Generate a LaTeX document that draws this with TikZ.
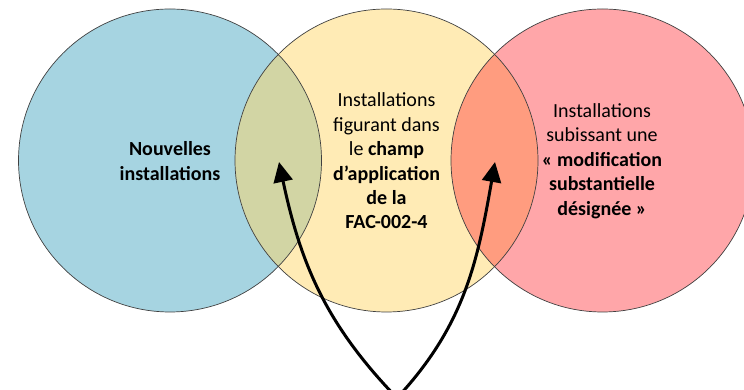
\documentclass[tikz,border=0pt]{standalone}
\usepackage{fontspec}
\setmainfont{Carlito}
\usepackage{tikz}
\usetikzlibrary{calc}
\usetikzlibrary{arrows.meta}
\definecolor{setBlue}{HTML}{A6D4E1}
\definecolor{setYellow}{HTML}{FFEBB5}
\definecolor{setRed}{HTML}{FFA6A9}
\definecolor{lensGreen}{HTML}{D2D5A4}
\definecolor{lensOrange}{HTML}{FF9C7F}

\begin{document}
\begin{tikzpicture}[x=1pt, y=1pt, font=\fontsize{20}{24.4}\selectfont]
    \def \rad{151.5}
    \useasboundingbox (0,0) rectangle (744,390);

    \coordinate (cBlue) at (170,229.5);
    \coordinate (cYellow) at (386.5,229.5);
    \coordinate (cRed) at (602.5,229.5);

    \foreach \c/\col in {cBlue/setBlue, cYellow/setYellow, cRed/setRed}{
        \fill[\col] (\c) circle (\rad);
    }
    \begin{scope}
        \clip (cBlue) circle (\rad);
        \fill[lensGreen] (cYellow) circle (\rad);
    \end{scope}
    \begin{scope}
        \clip (cRed) circle (\rad);
        \fill[lensOrange] (cYellow) circle (\rad);
    \end{scope}
    \foreach \c in {cBlue, cYellow, cRed}{
        \draw[black!75, line width=0.7] (\c) circle (\rad);
    }

    \node[align=center] (newInst) at (170,229) {\textbf{Nouvelles}\\ \textbf{installations}};
    \node[align=center] (scopeFac) at (386.5,229) {Installations\\ figurant dans\\ le \textbf{champ}\\ \textbf{d’application}\\ \textbf{de la}\\ \textbf{FAC-002-4}};
    \node[align=center] (modifInst) at (602,229) {Installations\\ subissant une\\ \textbf{« modification}\\ \textbf{substantielle}\\ \textbf{désignée »}};

    \coordinate (base) at (397,-8);
    \coordinate (tipA) at (279,228);
    \coordinate (tipB) at (495,228);
    \draw[line width=3, -{Triangle[length=20pt, width=19pt]}] (base) to[out=134, in=-78] (tipA);
    \draw[line width=3, -{Triangle[length=20pt, width=19pt]}] (base) to[out=47, in=-100] (tipB);
\end{tikzpicture}
\end{document}
